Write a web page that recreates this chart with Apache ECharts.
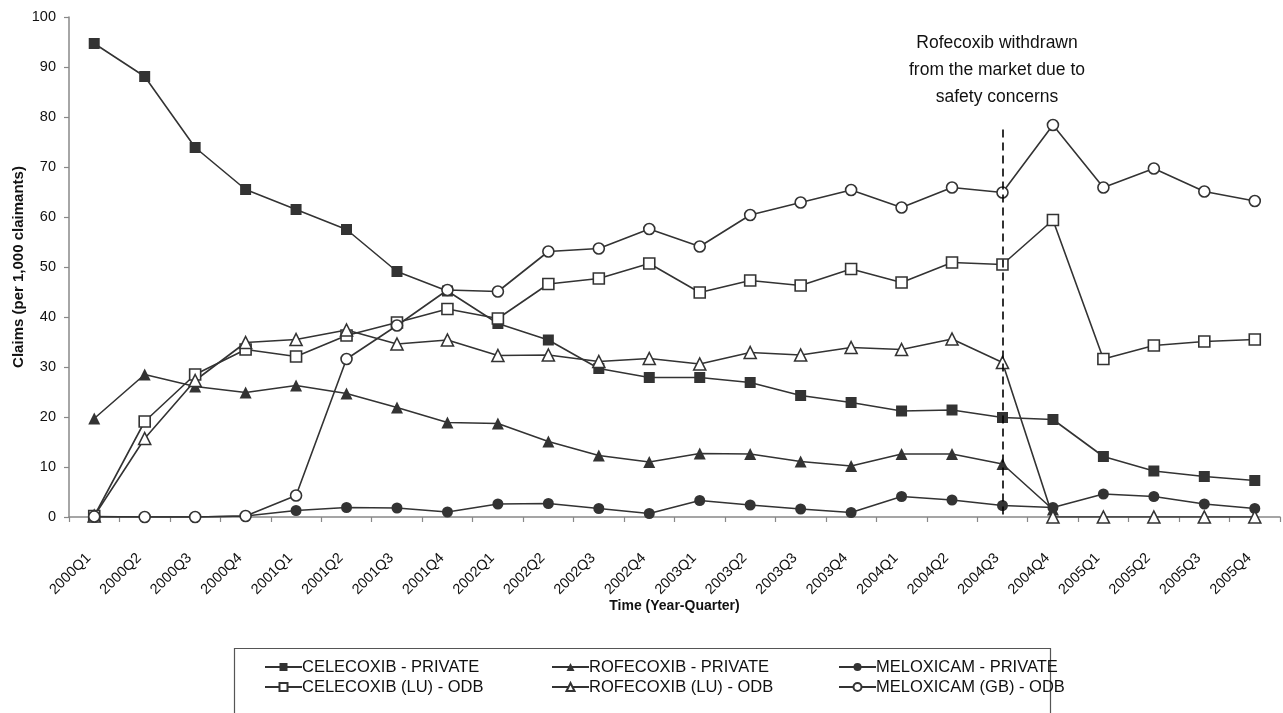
<!DOCTYPE html>
<html>
<head>
<meta charset="utf-8">
<script src="https://cdn.jsdelivr.net/npm/echarts@6/dist/echarts.min.js"></script>
<style>
  html, body { margin: 0; padding: 0; background: #fff; }
  #chart { width: 1283px; height: 713px; }
</style>
</head>
<body>
<div id="chart"></div>
<script>
// Quarterly claims per 1,000 claimants, 2000Q1 - 2005Q4
const quarters = [
  '2000Q1','2000Q2','2000Q3','2000Q4','2001Q1','2001Q2','2001Q3','2001Q4',
  '2002Q1','2002Q2','2002Q3','2002Q4','2003Q1','2003Q2','2003Q3','2003Q4',
  '2004Q1','2004Q2','2004Q3','2004Q4','2005Q1','2005Q2','2005Q3','2005Q4'
];

const celecoxibPrivate = [94.7, 88.1, 73.9, 65.5, 61.5, 57.5, 49.1, 45.2,
  38.7, 35.4, 29.7, 27.9, 27.9, 26.9, 24.3, 22.9,
  21.2, 21.4, 19.9, 19.5, 12.1, 9.2, 8.1, 7.3];

const rofecoxibPrivate = [19.7, 28.5, 26.1, 24.9, 26.3, 24.7, 21.9, 18.9,
  18.7, 15.1, 12.3, 11.0, 12.7, 12.6, 11.1, 10.2,
  12.6, 12.6, 10.6, 1.5, null, null, null, null];

const meloxicamPrivate = [0, 0, 0, 0.2, 1.3, 1.9, 1.8, 1.0,
  2.6, 2.7, 1.7, 0.7, 3.3, 2.4, 1.6, 0.9,
  4.1, 3.4, 2.3, 1.9, 4.6, 4.1, 2.6, 1.7];

const celecoxibOdb = [0.2, 19.1, 28.5, 33.5, 32.1, 36.3, 38.9, 41.6,
  39.7, 46.6, 47.7, 50.7, 44.9, 47.3, 46.3, 49.6,
  46.9, 50.9, 50.5, 59.4, 31.6, 34.3, 35.1, 35.5];

const rofecoxibOdb = [0.2, 15.7, 27.3, 34.9, 35.5, 37.4, 34.6, 35.4,
  32.3, 32.4, 31.1, 31.7, 30.6, 32.9, 32.4, 33.9,
  33.5, 35.6, 30.9, 0, 0, 0, 0, 0];

const meloxicamOdb = [0.1, 0, 0, 0.2, 4.3, 31.6, 38.3, 45.4,
  45.1, 53.1, 53.7, 57.6, 54.1, 60.4, 62.9, 65.4,
  61.9, 65.9, 64.9, 78.4, 65.9, 69.7, 65.1, 63.2];

const yTicks = { min: 0, max: 100, step: 10 };

// Withdrawal marker: quarter and the height the dashed guide reaches
const withdrawalQuarter = '2004Q3';
const withdrawalTop = 77.5;

const INK = '#333333';
const FONT = '"Liberation Sans", Arial, Helvetica, sans-serif';

function lineSeries(name, data, symbol, filled, extra) {
  return Object.assign({
    name: name,
    type: 'line',
    data: data,
    symbol: symbol,
    symbolSize: symbol === 'triangle' ? 12 : 11,
    showAllSymbol: true,
    connectNulls: false,
    lineStyle: { color: INK, width: 1.6 },
    itemStyle: {
      color: filled ? INK : '#ffffff',
      borderColor: INK,
      borderWidth: filled ? 0 : 1.6
    },
    emphasis: { disabled: true },
    animation: false,
    z: filled ? 2 : 3
  }, extra || {});
}

const chart = echarts.init(document.getElementById('chart'), null, { renderer: 'canvas' });

const legendBase = {
  orient: 'vertical',
  itemWidth: 37,
  itemHeight: 10,
  itemGap: 0,
  textStyle: { fontFamily: FONT, fontSize: 16.5, lineHeight: 20, color: '#111', padding: [0, 0, 0, -5] },
  selectedMode: false
};

chart.setOption({
  backgroundColor: '#ffffff',
  animation: false,
  grid: { left: 69, right: 3, top: 17, bottom: 196, containLabel: false, outerBoundsMode: 'none' },
  xAxis: {
    type: 'category',
    data: quarters,
    boundaryGap: true,
    name: 'Time (Year-Quarter)',
    nameLocation: 'middle',
    nameGap: 82,
    nameMoveOverlap: false,
    nameTextStyle: { fontFamily: FONT, fontWeight: 'bold', fontSize: 14, color: '#111' },
    axisLine: { show: true, lineStyle: { color: '#888888', width: 1.5 } },
    axisTick: { show: true, interval: 0, length: 5, inside: false, lineStyle: { color: '#888888', width: 1.2 } },
    axisLabel: {
      interval: 0,
      rotate: 45,
      margin: 33,
      padding: [0, 8, 0, 0],
      fontFamily: FONT,
      fontSize: 14.5,
      color: '#111'
    },
    splitLine: { show: false }
  },
  yAxis: {
    type: 'value',
    min: yTicks.min,
    max: yTicks.max,
    interval: yTicks.step,
    name: 'Claims (per 1,000 claimants)',
    nameLocation: 'middle',
    nameGap: 43,
    nameMoveOverlap: false,
    nameTextStyle: { fontFamily: FONT, fontWeight: 'bold', fontSize: 15, color: '#111' },
    axisLine: { show: true, lineStyle: { color: '#888888', width: 1.5 } },
    axisTick: { show: true, length: 5, inside: false, lineStyle: { color: '#888888', width: 1.2 } },
    axisLabel: { margin: 13, fontFamily: FONT, fontSize: 14.5, color: '#111' },
    splitLine: { show: false }
  },
  legend: [
    Object.assign({}, legendBase, { left: 259, top: 652, data: ['CELECOXIB - PRIVATE', 'CELECOXIB (LU) - ODB'] }),
    Object.assign({}, legendBase, { left: 546, top: 652, data: ['ROFECOXIB - PRIVATE', 'ROFECOXIB (LU) - ODB'] }),
    Object.assign({}, legendBase, { left: 833, top: 652, data: ['MELOXICAM - PRIVATE', 'MELOXICAM (GB) - ODB'] })
  ],
  graphic: [
    {
      type: 'rect',
      left: 232, top: 646,
      shape: { width: 816, height: 80 },
      style: { fill: 'none', stroke: '#555555', lineWidth: 1.2 },
      silent: true
    },
    {
      type: 'text',
      x: 997, y: 30,
      style: {
        text: 'Rofecoxib withdrawn\nfrom the market due to\nsafety concerns',
        fontFamily: FONT,
        fontSize: 17.5,
        lineHeight: 27,
        fill: '#111',
        align: 'center',
        verticalAlign: 'top'
      },
      silent: true
    }
  ],
  series: [
    lineSeries('CELECOXIB - PRIVATE', celecoxibPrivate, 'rect', true),
    lineSeries('ROFECOXIB - PRIVATE', rofecoxibPrivate, 'triangle', true),
    lineSeries('MELOXICAM - PRIVATE', meloxicamPrivate, 'circle', true),
    lineSeries('CELECOXIB (LU) - ODB', celecoxibOdb, 'rect', false),
    lineSeries('ROFECOXIB (LU) - ODB', rofecoxibOdb, 'triangle', false, {
      markLine: {
        silent: true,
        symbol: ['none', 'none'],
        label: { show: false },
        lineStyle: { color: '#000000', type: [8, 5], width: 1.6 },
        data: [[
          { coord: [withdrawalQuarter, withdrawalTop] },
          { coord: [withdrawalQuarter, 0] }
        ]],
        animation: false
      }
    }),
    lineSeries('MELOXICAM (GB) - ODB', meloxicamOdb, 'circle', false)
  ]
});
</script>
</body>
</html>
